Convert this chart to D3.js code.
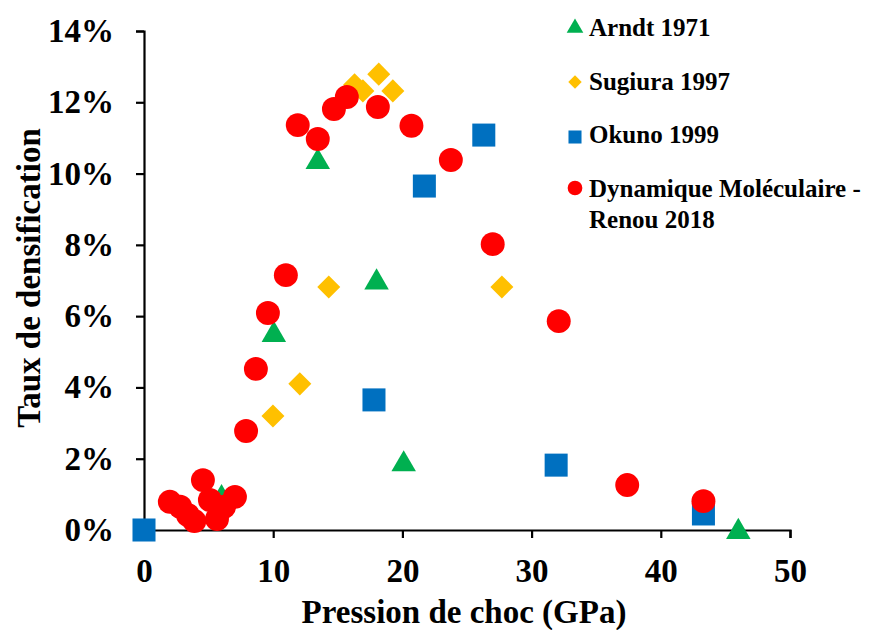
<!DOCTYPE html>
<html><head><meta charset="utf-8">
<script src="https://cdn.jsdelivr.net/npm/d3@7"></script>
<style>body{margin:0;background:#fff}svg{display:block}text{font-family:"Liberation Serif","Times New Roman",serif;font-weight:bold}</style>
</head><body>
<svg id="c" width="873" height="630"></svg>
<script>
const xTicks = [0, 10, 20, 30, 40, 50];
const yTicks = [0, 0.02, 0.04, 0.06, 0.08, 0.10, 0.12, 0.14];
const seriesNames = ["Arndt 1971", "Sugiura 1997", "Okuno 1999", "Dynamique Moléculaire - Renou 2018"];
const arndtX = [13.45, 18.0, 10.05, 20.1, 46.0, 6.0];
const arndtY = [0.1038, 0.070, 0.0553, 0.019, 0.0, 0.0095];
const sugiuraX = [18.17, 19.26, 16.94, 16.3, 14.3, 12.06, 9.98, 27.7];
const sugiuraY = [0.1279, 0.1232, 0.1232, 0.1249, 0.0682, 0.041, 0.032, 0.0682];
const okunoX = [0, 26.3, 21.7, 17.8, 31.9, 43.3];
const okunoY = [0, 0.1108, 0.0965, 0.0365, 0.0182, 0.0045];
const dynX = [2.0, 2.8, 3.4, 3.9, 4.56, 5.1, 5.65, 6.2, 7.04, 7.9, 8.66, 9.59, 10.98, 11.9, 13.45, 14.7, 15.7, 18.1, 20.7, 23.75, 26.99, 32.1, 37.4, 43.3];
const dynY = [0.0079, 0.0065, 0.0042, 0.0025, 0.014, 0.0084, 0.0031, 0.0065, 0.0093, 0.0278, 0.0452, 0.0609, 0.0715, 0.1136, 0.1097, 0.1181, 0.1215, 0.1187, 0.1134, 0.1038, 0.0802, 0.0586, 0.0126, 0.0081];

const svg = d3.select("#c");
const x = d3.scaleLinear().domain([0, 50]).range([144, 790]);
const y = d3.scaleLinear().domain([0, 0.14]).range([530, 31]);

const colors = ["#00B050", "#FFC000", "#0070C0", "#FF0000"];
const shapes = [d3.symbolTriangle, d3.symbolSquare, d3.symbolSquare, d3.symbolCircle];
const rot = [0, 45, 0, 0];
const sizes = [260, 265, 530, 450];

// axes
const xa = svg.append("g").attr("transform", "translate(0,530)")
  .call(d3.axisBottom(x).tickValues(xTicks).tickSize(8).tickPadding(21).tickFormat(d3.format("d")));
const ya = svg.append("g").attr("transform", "translate(144,0)")
  .call(d3.axisLeft(y).tickValues(yTicks).tickSize(8).tickPadding(22).tickFormat(d3.format(".0%")));
[xa, ya].forEach(a => {
  a.select(".domain").attr("stroke", "#000").attr("stroke-width", 2.2);
  a.selectAll(".tick line").attr("stroke", "#000").attr("stroke-width", 2.2);
  a.selectAll(".tick text").attr("fill", "#000").style("font-size", "33px").style("font-family", "Liberation Serif").style("font-weight", "bold");
});

// axis titles
svg.append("text").attr("x", 464).attr("y", 623).attr("text-anchor", "middle").style("font-size", "33px").text("Pression de choc (GPa)");
svg.append("text").attr("transform", "translate(40,278) rotate(-90)").attr("text-anchor", "middle").style("font-size", "33px").text("Taux de densification");

// series
const data = [[arndtX, arndtY], [sugiuraX, sugiuraY], [okunoX, okunoY], [dynX, dynY]];
data.forEach((d, i) => {
  const pts = d[0].map((v, j) => [v, d[1][j]]);
  svg.append("g").selectAll("path").data(pts).join("path")
    .attr("transform", p => `translate(${x(p[0])},${y(p[1]) + (i === 0 ? 2 : 0)}) rotate(${rot[i]})`)
    .attr("d", d3.symbol().type(shapes[i]).size(sizes[i]))
    .attr("fill", colors[i]);
});

// legend
const lg = svg.append("g");
const legMarkY = [28, 82, 137, 188];
const legTextY = [36, 90, 143, 197];
const legSizes = [120, 90, 170, 170];
seriesNames.forEach((n, i) => {
  lg.append("path").attr("transform", `translate(575,${legMarkY[i]}) rotate(${rot[i]})`)
    .attr("d", d3.symbol().type(shapes[i]).size(legSizes[i])).attr("fill", colors[i]);
  if (i < 3) {
    lg.append("text").attr("x", 589).attr("y", legTextY[i]).style("font-size", "25px").text(n);
  } else {
    lg.append("text").attr("x", 589).attr("y", legTextY[i]).style("font-size", "25px").text("Dynamique Moléculaire -");
    lg.append("text").attr("x", 589).attr("y", legTextY[i] + 31).style("font-size", "25px").text("Renou 2018");
  }
});
</script>
</body></html>
